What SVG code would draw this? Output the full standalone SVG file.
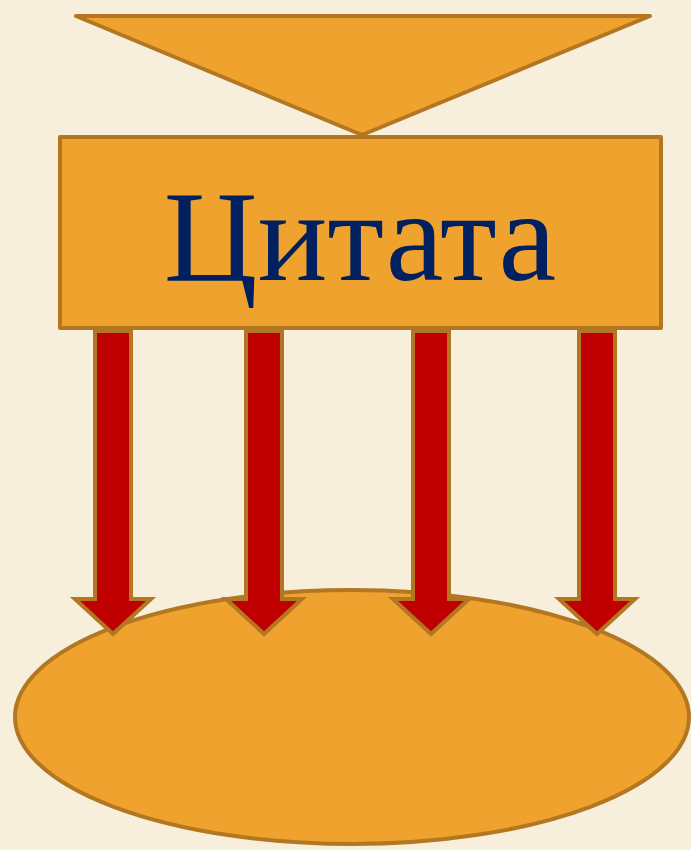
<svg xmlns="http://www.w3.org/2000/svg" width="691" height="850" viewBox="0 0 691 850">
<style>
.shape{fill:#EFA22E;stroke:#B37722;stroke-width:4;stroke-linejoin:round}
.arrow{fill:#C00000;stroke:#B37722;stroke-width:4;stroke-linejoin:miter}
.label{font-family:"Liberation Serif","Times New Roman",serif;font-size:130px;fill:#002060}
</style>
<defs>
<path id="arr" d="M-18,0 L18,0 L18,268 L38,268 L0,303 L-38,268 L-18,268 Z"/>
</defs>
<rect width="691" height="850" fill="#F7EFDC"/>
<g id="ellipse-node">
<ellipse class="shape" cx="352" cy="717" rx="337" ry="127"/>
</g>
<g id="triangle-node">
<polygon class="shape" points="76,16 650,16 362,135"/>
</g>
<g id="connectors">
<use href="#arr" class="arrow" x="113" y="331"/>
<use href="#arr" class="arrow" x="264" y="331"/>
<use href="#arr" class="arrow" x="431" y="331"/>
<use href="#arr" class="arrow" x="597" y="331"/>
</g>
<g id="quote-node">
<rect class="shape" x="60" y="137" width="601" height="191" stroke-linejoin="miter"/>
<text class="label" x="360" y="280" text-anchor="middle">Цитата</text>
</g>
</svg>
